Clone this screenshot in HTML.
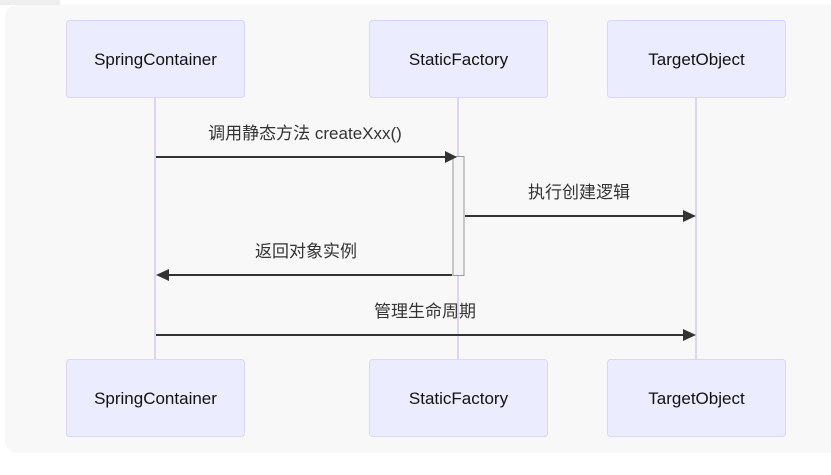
<!DOCTYPE html>
<html><head><meta charset="utf-8"><style>
html,body{margin:0;padding:0;background:#fff;width:831px;height:475px;overflow:hidden}
text{font-family:"Liberation Sans","Noto Sans CJK SC",sans-serif;}
</style></head><body>
<svg width="831" height="475" xmlns="http://www.w3.org/2000/svg">
<rect x="0" y="0" width="831" height="475" fill="#ffffff"/>
<rect x="0" y="0" width="60" height="5" fill="#eeeeee"/>
<rect x="5" y="5" width="840" height="448" rx="12" fill="#f8f8f8"/>
<g stroke="#ddd6f3" stroke-width="2">
<line x1="155" y1="97" x2="155" y2="360"/>
<line x1="458" y1="97" x2="458" y2="360"/>
<line x1="696" y1="97" x2="696" y2="360"/>
</g>
<g fill="#ececff" stroke="#dcd5f5" stroke-width="1">
<rect x="66.5" y="20.5" width="178" height="77" rx="3"/>
<rect x="369.5" y="20.5" width="178" height="77" rx="3"/>
<rect x="607.5" y="20.5" width="178" height="77" rx="3"/>
<rect x="66.5" y="359.5" width="178" height="77" rx="3"/>
<rect x="369.5" y="359.5" width="178" height="77" rx="3"/>
<rect x="607.5" y="359.5" width="178" height="77" rx="3"/>
</g>
<g font-size="17" fill="#111" text-anchor="middle">
<text x="155.5" y="65">SpringContainer</text>
<text x="458.5" y="65">StaticFactory</text>
<text x="696.5" y="65">TargetObject</text>
<text x="155.5" y="404">SpringContainer</text>
<text x="458.5" y="404">StaticFactory</text>
<text x="696.5" y="404">TargetObject</text>
</g>
<rect x="453" y="156.5" width="11" height="119" fill="#f4f4f4" stroke="#999" stroke-width="1"/>
<g stroke="#333" stroke-width="2">
<line x1="156" y1="157" x2="446" y2="157"/>
<line x1="465" y1="216" x2="684" y2="216"/>
<line x1="452" y1="275" x2="168" y2="275"/>
<line x1="156" y1="335" x2="684" y2="335"/>
</g>
<g fill="#333">
<polygon points="445,151 457,157 445,163"/>
<polygon points="683,210 696,216 683,222"/>
<polygon points="169,269 156,275 169,281"/>
<polygon points="683,329 696,335 683,341"/>
</g>
<g font-size="17" fill="#333" text-anchor="middle">
<text x="305" y="139">调用静态方法 createXxx()</text>
<text x="579" y="198">执行创建逻辑</text>
<text x="306" y="257">返回对象实例</text>
<text x="425" y="317">管理生命周期</text>
</g>
</svg>
</body></html>
